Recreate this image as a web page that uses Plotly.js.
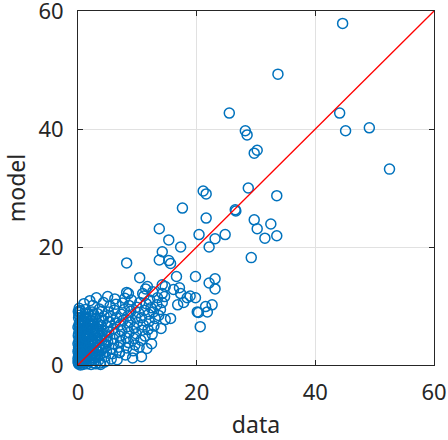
<!DOCTYPE html>
<html>
<head>
<meta charset="utf-8">
<script src="https://cdn.plot.ly/plotly-3.0.1.min.js"></script>
<style>html,body{margin:0;padding:0;background:#fff;}#chart{width:448px;height:440px;}</style>
</head>
<body>
<div id="chart"></div>
<script>
// Observed data (x) vs model prediction (y)
const dataX = [
  44.6,33.7,25.5,44.1,45.1,49.1,28.2,28.5,29.7,30.2,52.5,28.7,33.5,21.1,21.6,17.6,26.5,26.6,21.6,29.7,
  32.5,30.2,31.5,33.5,29.2,24.8,23.1,20.4,13.7,15.3,22.1,17.3,14.2,8.2,13.7,15.3,15.6,16.6,10.4,19.8,
  23.1,22.1,23.1,11.7,14.2,14.7,17.1,17.3,18.9,19.8,8.2,8.5,10.9,11.1,14.2,14.6,16.1,20.1,21.5,22.6,
  21.8,16.8,20.3,20.6,14.7,15.6,18.4,17.8,11.6,10.7,7.0,
  0.1,0.3,0.0,0.2,0.4,0.1,0.3,0.0,0.2,0.4,0.1,0.3,0.0,0.2,0.5,0.1,0.3,0.2,0.6,0.7,0.5,0.8,0.6,0.9,0.7,0.8,
  1.0,1.2,1.1,1.4,1.3,1.5,1.2,1.6,1.1,1.4,1.7,1.3,1.8,1.9,2.0,1.7,2.1,1.9,2.2,2.0,2.3,2.1,2.4,2.5,1.0,
  2.6,2.8,2.7,3.0,2.9,3.2,2.8,3.1,3.4,3.0,3.3,3.6,3.5,3.7,3.9,3.6,4.0,3.8,4.1,3.9,4.2,4.4,4.0,4.3,
  4.5,4.6,4.8,4.7,5.0,4.9,5.2,5.0,5.3,5.5,5.1,5.4,5.6,5.8,5.7,6.0,5.9,6.2,6.0,6.3,6.5,6.1,6.4,6.2,3.1,2.0,5.0,
  6.6,7.0,6.8,7.2,7.0,7.4,7.1,7.6,7.3,7.8,7.5,7.9,8.0,8.2,8.5,8.1,8.6,8.3,8.8,8.4,8.9,8.6,9.0,9.2,
  9.3,9.6,9.4,9.8,9.5,10.0,9.7,10.2,9.9,10.4,10.3,10.6,10.8,11.0,10.7,11.2,11.5,11.3,11.8,12.0,11.9,12.3,12.1,
  12.5,12.8,13.0,12.7,13.3,13.6,13.9,14.2,13.4,12.6,11.4,14.0,12.4,
  0.2,0.5,0.1,0.6,0.3,0.5,0.2,0.6,0.9,1.1,0.9,1.3,1.0,1.2,0.9,1.6,1.5,1.8,1.6,1.8,2.4,2.3,2.5,2.4,2.6,2.7,
  3.3,3.4,3.3,0.0,0.1,0.0,0.4,0.8,1.5,2.2,3.0,3.8,
  0.15,0.35,0.55,0.25,0.45,0.65,0.15,0.35,0.55,0.75,0.25,0.45,0.65,0.85,0.15,0.35,0.95,1.15,1.35,1.05,
  1.25,1.45,1.65,1.15,1.35,1.55,1.75,1.95,2.15,1.85,2.05,2.25,2.45,2.65,2.35,2.55,2.85,3.05,3.25,2.95,
  3.15,3.45,3.65,3.85,4.05,3.55,3.75,4.25,4.45,4.65,0.05,0.25,0.45,0.05,0.65,0.85,1.05,1.25
];
const modelY = [
  57.9,49.3,42.7,42.7,39.7,40.2,39.7,39.0,35.9,36.4,33.2,30.0,28.7,29.5,29.0,26.6,26.3,26.1,24.9,24.6,
  23.9,23.1,21.5,21.9,18.2,22.1,21.4,22.1,23.1,21.2,20.0,20.0,19.2,17.3,17.8,17.7,17.2,15.0,14.8,15.0,
  14.6,13.9,12.9,13.3,13.6,13.3,13.1,12.1,11.7,11.4,12.3,12.1,12.1,11.7,12.1,11.6,12.8,9.0,9.9,10.2,
  9.0,10.2,8.9,6.5,7.7,7.9,11.4,10.6,2.8,1.4,2.1,
  0.2,0.6,1.1,1.5,2.0,2.6,3.1,3.6,4.2,4.7,5.3,5.9,6.4,7.0,7.5,8.0,8.9,9.6,0.4,1.3,2.4,3.3,4.1,5.0,6.1,6.8,
  0.3,0.9,1.8,2.6,3.5,4.4,5.2,6.0,7.1,7.9,8.6,9.4,0.6,1.5,2.2,3.0,3.9,4.8,5.7,6.6,7.4,8.2,9.0,10.1,10.4,
  0.4,1.2,2.0,2.9,3.7,4.5,5.3,6.2,7.0,7.9,8.7,9.5,0.8,1.7,2.5,3.3,4.1,5.0,5.8,6.7,7.5,8.3,9.1,10.6,
  0.5,1.4,2.3,3.2,3.9,4.8,5.6,6.5,7.3,8.2,9.0,10.0,1.0,1.9,2.8,3.6,4.5,5.3,6.2,7.1,8.0,9.3,10.3,11.2,11.4,10.9,11.6,
  0.9,2.1,3.0,4.0,4.9,5.8,6.8,7.6,8.6,9.4,10.5,11.3,1.7,2.9,3.8,4.6,5.5,6.5,7.3,8.3,9.1,10.1,11.0,1.2,
  2.4,3.4,4.5,5.3,6.3,7.2,8.1,8.9,9.8,10.6,3.0,4.2,5.9,6.8,8.0,9.3,10.4,4.9,6.0,7.4,8.6,9.7,11.0,
  5.2,6.6,7.9,9.0,10.2,8.4,9.4,10.6,11.4,12.4,12.9,6.2,3.6,
  0.8,1.7,3.0,3.7,4.4,5.6,6.7,7.1,0.9,2.3,3.0,4.0,4.8,6.4,7.6,1.1,2.0,3.6,5.0,7.0,0.9,1.7,3.3,4.4,6.0,6.9,
  1.4,2.2,5.5,0.5,1.6,2.3,0.0,0.1,0.2,0.1,0.2,0.1,
  0.35,0.95,1.45,1.95,2.85,3.45,3.95,4.85,5.35,5.95,6.25,6.85,7.45,8.25,8.45,9.25,1.55,2.05,2.95,3.85,
  4.65,5.45,6.35,7.25,8.15,1.05,2.45,3.35,4.25,5.25,6.05,6.95,7.85,8.65,2.15,3.85,1.75,2.55,4.05,4.95,
  5.85,6.55,3.05,4.45,5.35,7.65,0.35,2.75,3.55,4.25,4.95,5.65,7.85,9.05,2.35,1.25,0.65,8.75
];
// Reference line y = x
const lineX = [0, 60];
const lineY = [0, 60];
const tickVals = [0, 20, 40, 60];
const tickText = ['0', '20', '40', '60'];

const traces = [
  {
    x: dataX, y: modelY, type: 'scatter', mode: 'markers', cliponaxis: false,
    marker: {symbol: 'circle-open', size: 10, color: '#0072BD', line: {width: 1.5, color: '#0072BD'}},
    hoverinfo: 'skip'
  },
  {
    x: lineX, y: lineY, type: 'scatter', mode: 'lines',
    line: {color: '#FF0000', width: 1.3}, hoverinfo: 'skip'
  }
];

const axisBase = {
  range: [0, 60], tickmode: 'array', tickvals: tickVals, ticktext: tickText,
  showgrid: true, gridcolor: '#e1e1e1', gridwidth: 1, zeroline: false,
  showline: true, linecolor: '#262626', linewidth: 1, mirror: 'ticks',
  ticks: 'inside', ticklen: 5, tickwidth: 1, tickcolor: '#262626',
  tickfont: {size: 22, color: '#262626'}, fixedrange: true,
  ticklabeloverflow: 'allow'
};

const layout = {
  width: 448, height: 440,
  margin: {l: 78, r: 14, t: 11, b: 75, pad: 0},
  paper_bgcolor: '#ffffff', plot_bgcolor: '#ffffff',
  showlegend: false,
  font: {family: '"Noto Sans", sans-serif', color: '#262626', size: 22},
  xaxis: Object.assign({}, axisBase, {ticklabelstandoff: 8,
    title: {text: 'data', font: {size: 23, color: '#262626'}, standoff: 12}}),
  yaxis: Object.assign({}, axisBase, {ticklabelstandoff: 9,
    title: {text: 'model', font: {size: 23, color: '#262626'}, standoff: 9}})
};

Plotly.newPlot('chart', traces, layout, {displayModeBar: false, staticPlot: true});
</script>
</body>
</html>
